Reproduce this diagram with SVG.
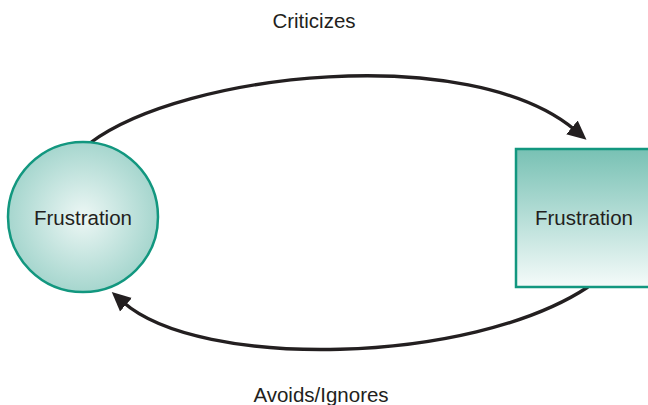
<svg xmlns="http://www.w3.org/2000/svg" width="648" height="405" viewBox="0 0 648 405">
<defs>
<radialGradient id="gc" cx="0.5" cy="0.5" r="0.5">
<stop offset="0" stop-color="#edf7f5"/>
<stop offset="1" stop-color="#a6d6ce"/>
</radialGradient>
<linearGradient id="gr" x1="0" y1="0" x2="0" y2="1">
<stop offset="0" stop-color="#78c1b4"/>
<stop offset="1" stop-color="#f5fbfa"/>
</linearGradient>
<marker id="ah" markerUnits="userSpaceOnUse" markerWidth="19" markerHeight="19" viewBox="0 0 19 18" refX="4" refY="9" orient="auto">
<path d="M0,0 L19,9 L0,18 Z" fill="#231f20"/>
</marker>
<style>
.lbl{font-family:"Liberation Sans",Arial,sans-serif;font-size:20.5px;fill:#231f20;text-anchor:middle}
.node{stroke:#12977f;stroke-width:2.5}
.conn{fill:none;stroke:#231f20;stroke-width:3.3}
</style>
</defs>
<rect width="648" height="405" fill="#ffffff"/>
<g id="connectors">
<path class="conn" d="M90,143 C185,72 470,42 575,130" marker-end="url(#ah)"/>
<path class="conn" d="M588,287 C470,365 200,370 123,302" marker-end="url(#ah)"/>
</g>
<g id="node-circle">
<circle class="node" cx="83" cy="217" r="75" fill="url(#gc)"/>
<text class="lbl" x="83" y="225">Frustration</text>
</g>
<g id="node-rect">
<rect class="node" x="516" y="149" width="136" height="138" fill="url(#gr)"/>
<text class="lbl" x="584" y="225">Frustration</text>
</g>
<text class="lbl" x="314" y="28">Criticizes</text>
<text class="lbl" x="321" y="402">Avoids/Ignores</text>
</svg>
